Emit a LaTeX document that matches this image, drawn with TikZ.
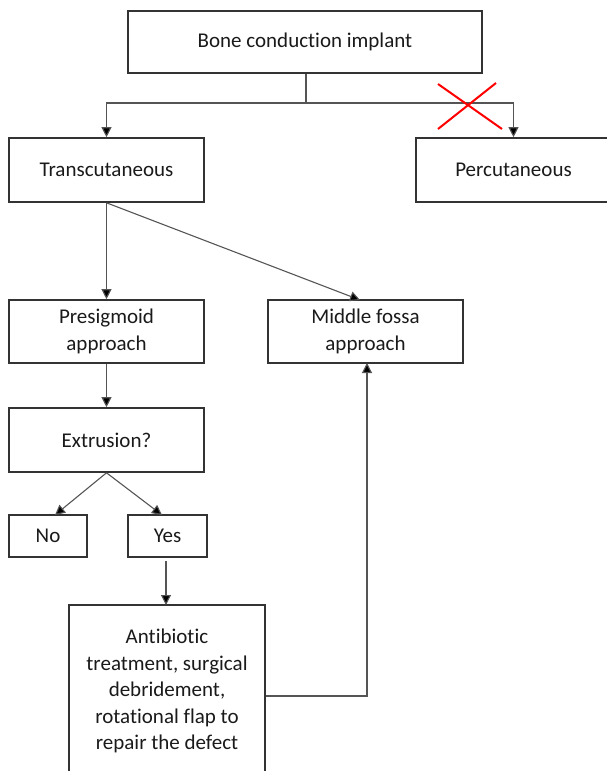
\documentclass[tikz,border=0pt]{standalone}
\usepackage{fontspec}
\setmainfont{Carlito}[Ligatures={NoCommon}]
\usetikzlibrary{arrows.meta}
\definecolor{boxline}{HTML}{333333}
\definecolor{conn}{HTML}{555555}
\definecolor{txt}{HTML}{1A1A1A}
\tikzset{
  box/.style={draw=boxline, line width=1.6pt, rectangle, inner sep=0pt, align=center,
    text=txt, font=\fontsize{21}{26.5}\selectfont},
  conn/.style={draw=conn, line width=1.1pt},
  arr/.style={conn, -{Triangle[width=10pt,length=10pt,fill=black]}},
  cross/.style={draw=red, line width=2pt}
}
\begin{document}
\begin{tikzpicture}[x=1pt,y=-1pt]
\useasboundingbox (0,0) rectangle (607,771);
\clip (0,0) rectangle (607,771);
\node[box, minimum width=354pt, minimum height=62pt] (top) at (305,42) {Bone conduction implant};
\node[box, minimum width=195pt, minimum height=64pt] (trans) at (106.5,170) {Transcutaneous};
\node[box, minimum width=195pt, minimum height=64pt] (perc) at (513.5,170) {Percutaneous};
\node[box, minimum width=195pt, minimum height=63pt] (pre) at (106.5,331.5) {Presigmoid\\approach};
\node[box, minimum width=195pt, minimum height=63pt] (mid) at (365.5,331.5) {Middle fossa\\approach};
\node[box, minimum width=195pt, minimum height=64pt] (ext) at (106.5,440) {Extrusion?};
\node[box, minimum width=78pt, minimum height=42pt] (no) at (48,536) {No};
\node[box, minimum width=79pt, minimum height=42pt] (yes) at (167.5,536) {Yes};
\node[box, minimum width=196pt, minimum height=172pt] (anti) at (167,691)
  {Antibiotic\\treatment, surgical\\debridement,\\rotational flap to\\repair the defect};
% connectors
\coordinate (split) at (306,103);
\draw[conn] (top.south -| split) -- (split);
\draw[arr] (split) -| (trans.north);
\draw[arr] (split) -| (perc.north);
\coordinate (midin) at (360,300);
\draw[arr] (trans.south) -- (pre.north);
\draw[arr] (trans.south) -- (midin);
\draw[arr] (pre.south) -- (ext.north);
\coordinate (noin) at (55,515);
\coordinate (yesin) at (162,515);
\draw[arr] (ext.south) -- (noin);
\draw[arr] (ext.south) -- (yesin);
\coordinate (yesout) at (166,561);
\draw[arr] (yesout) -- (166,605);
\coordinate (midout) at (367,363);
\draw[arr] (anti.east |- 0,696) -| (midout);
% red cross
\draw[cross] (438,84) -- (502,129);
\draw[cross] (496,83) -- (438,129);
\end{tikzpicture}
\end{document}
